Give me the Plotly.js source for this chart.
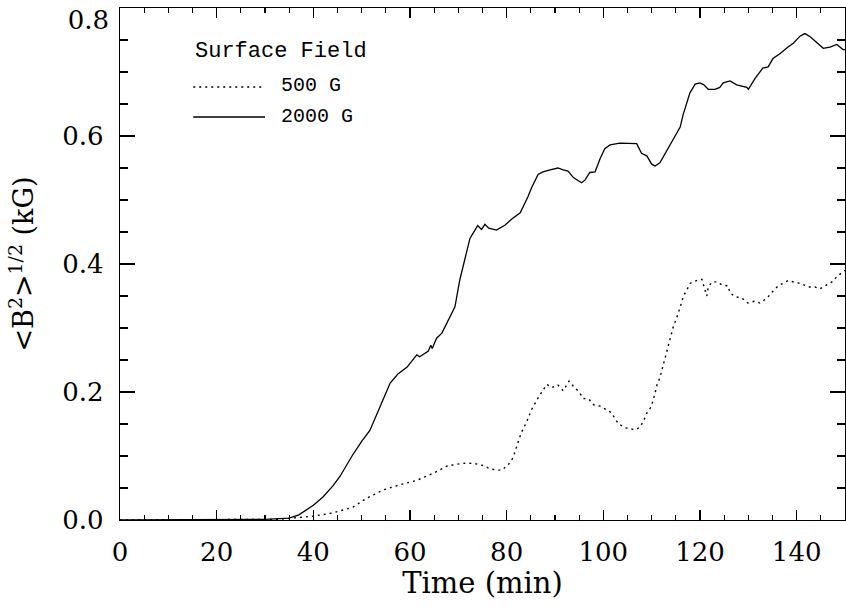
<!DOCTYPE html>
<html>
<head>
<meta charset="utf-8">
<script src="https://cdn.plot.ly/plotly-3.0.1.min.js"></script>
<style>
html,body{margin:0;padding:0;background:#fff;}
#chart{width:846px;height:607px;}
</style>
</head>
<body>
<div id="chart"></div>
<script>
// Time (min) and <B^2>^(1/2) (kG) for the two surface-field cases
var time2000 = [0,5,10,15,20,25,30,33,35,37,40,42,44,45.5,48,50,51.7,53.8,55.9,57.5,59.4,61.4,62,63.8,64.3,64.6,65.5,66.6,68.7,69.3,70.3,71.4,72.4,74,74.8,75.5,76.3,77.9,79.7,81,82.8,84.4,85.2,86.5,87.5,89,90.6,91.7,92.7,93.8,95.5,96.2,97.2,98.3,99.3,100.3,101.4,103.4,105.5,106.9,107.9,109,110,110.7,111.7,113.4,114.8,115.9,116.5,117.9,119,120,120.8,121.7,123.1,124.1,124.8,126.2,127.6,129.7,130,131.4,133,134.1,135.1,136.6,138.2,139.3,140.7,141.7,142.8,144.2,145.5,146.9,148.3,149.6,150];
var field2000 = [0,0,0,0,0,0,0.001,0.002,0.003,0.008,0.023,0.036,0.053,0.068,0.1,0.123,0.14,0.177,0.214,0.228,0.239,0.258,0.255,0.264,0.273,0.268,0.284,0.292,0.325,0.333,0.375,0.411,0.44,0.46,0.454,0.462,0.456,0.453,0.461,0.47,0.48,0.505,0.52,0.54,0.544,0.547,0.55,0.547,0.545,0.535,0.527,0.531,0.543,0.544,0.564,0.58,0.586,0.589,0.588,0.588,0.573,0.569,0.556,0.553,0.558,0.581,0.599,0.614,0.633,0.667,0.681,0.683,0.68,0.673,0.673,0.676,0.683,0.686,0.68,0.676,0.673,0.69,0.706,0.708,0.721,0.729,0.739,0.745,0.756,0.76,0.755,0.745,0.737,0.739,0.743,0.735,0.735];

var time500 = [0,5,10,15,20,25,30,33,35.6,40,44,48.2,51,54.5,57.9,61.4,64.8,67.6,69.5,71.7,73.5,75.2,76.6,78,79,80.3,81.3,82.1,83,84,85.2,86.6,88.3,89.3,90.6,91.7,92.9,93.8,95,95.8,97,98,99.3,100.5,101.8,102.4,103.2,104.5,105.5,106.6,107.6,108.4,109,109.9,110.7,111.1,111.7,112.3,113.4,114.4,115.5,116.6,118,119.3,120.4,121.4,121.7,122.5,123.5,124.6,125.8,126.2,127.2,128.6,129.9,131.4,132.4,133.9,134.9,136.2,138.2,139.7,141.1,142.4,143.8,144.8,145.9,147.3,148.4,149.4,150];
var field500 = [0,0,0,0,0,0,0,0.001,0.003,0.006,0.011,0.02,0.034,0.047,0.055,0.062,0.073,0.084,0.087,0.089,0.088,0.085,0.08,0.078,0.078,0.086,0.097,0.117,0.136,0.151,0.173,0.192,0.212,0.207,0.211,0.202,0.217,0.209,0.2,0.19,0.189,0.18,0.178,0.173,0.167,0.158,0.15,0.144,0.142,0.141,0.145,0.156,0.167,0.177,0.198,0.211,0.222,0.24,0.272,0.3,0.323,0.35,0.37,0.374,0.376,0.35,0.364,0.372,0.372,0.367,0.366,0.355,0.349,0.347,0.339,0.342,0.339,0.347,0.356,0.366,0.374,0.372,0.369,0.364,0.364,0.361,0.366,0.372,0.381,0.386,0.39];

var xTicks = [0,20,40,60,80,100,120,140];
var yTicks = [0,0.2,0.4,0.6];
var yTopTick = [0.8];
var legendTitle = 'Surface Field';
var seriesNames = ['500 G','2000 G'];

var tickFont = {family:'DejaVu Serif', size:26, color:'#000'};
var fmt = function(v){return v.toFixed(1);};

var traces = [
  {x: time500, y: field500, mode:'lines', name: seriesNames[0], yaxis:'y2',
   line:{color:'#000', width:1.4, dash:'2px,4px'}, showlegend:false},
  {x: time2000, y: field2000, mode:'lines', name: seriesNames[1],
   line:{color:'#000', width:1.3}, showlegend:false}
];

var layout = {
  width:846, height:607,
  margin:{l:120, r:1, t:8, b:87, pad:0},
  paper_bgcolor:'#fff', plot_bgcolor:'#fff',
  xaxis:{
    range:[0,150], tickvals:xTicks, ticktext:xTicks.map(String),
    showline:true, linecolor:'#000', linewidth:1.3, mirror:'ticks',
    ticks:'inside', ticklen:10, tickwidth:1.3, tickcolor:'#000',
    minor:{dtick:5, ticks:'inside', ticklen:5, tickwidth:1.2, tickcolor:'#000'},
    showgrid:false, zeroline:false, tickfont:tickFont, ticklabelstandoff:8,
    title:{text:'Time (min)', font:{family:'DejaVu Serif', size:29, color:'#000'}, standoff:6}
  },
  yaxis:{
    range:[0,0.8], tickvals:yTicks, ticktext:yTicks.map(fmt),
    showline:true, linecolor:'#000', linewidth:1.3, mirror:'ticks',
    ticks:'inside', ticklen:15, tickwidth:1.3, tickcolor:'#000',
    minor:{dtick:0.05, ticks:'inside', ticklen:8, tickwidth:1.2, tickcolor:'#000'},
    showgrid:false, zeroline:false, tickfont:tickFont, ticklabelstandoff:10,
    title:{text:'&lt;B<sup>2</sup>&gt;<sup>1/2</sup> (kG)', font:{family:'DejaVu Serif', size:27, color:'#000'}, standoff:20}
  },
  yaxis2:{
    overlaying:'y', side:'left', range:[0,0.8], tickvals:yTopTick, ticktext:yTopTick.map(fmt),
    ticks:'inside', ticklen:15, tickwidth:1.3, tickcolor:'#000',
    showline:false, showgrid:false, zeroline:false, tickfont:tickFont,
    ticklabelstandoff:10, ticklabelshift:12, ticklabeloverflow:'allow'
  },
  shapes:[
    {type:'line', xref:'paper', yref:'paper', x0:0.101, x1:0.200, y0:0.8457, y1:0.8457,
     line:{color:'#000', width:1.4, dash:'2px,4px'}},
    {type:'line', xref:'paper', yref:'paper', x0:0.101, x1:0.200, y0:0.7871, y1:0.7871,
     line:{color:'#000', width:1.3}}
  ],
  annotations:[
    {xref:'paper', yref:'paper', x:0.1, y:0.9141, xanchor:'left', yanchor:'middle', showarrow:false,
     text:legendTitle, font:{family:'Liberation Mono', size:22, color:'#000'}},
    {xref:'paper', yref:'paper', x:0.219, y:0.8477, xanchor:'left', yanchor:'middle', showarrow:false,
     text:seriesNames[0], font:{family:'Liberation Mono', size:20, color:'#000'}},
    {xref:'paper', yref:'paper', x:0.219, y:0.789, xanchor:'left', yanchor:'middle', showarrow:false,
     text:seriesNames[1], font:{family:'Liberation Mono', size:20, color:'#000'}}
  ]
};

Plotly.newPlot('chart', traces, layout, {displayModeBar:false, staticPlot:true});
</script>
</body>
</html>
